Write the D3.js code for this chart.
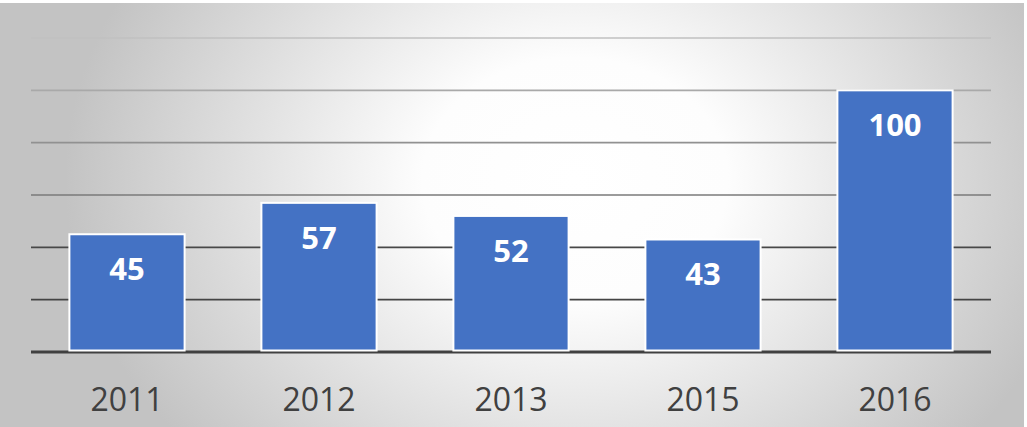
<!DOCTYPE html>
<html>
<head>
<meta charset="utf-8">
<script src="https://cdn.jsdelivr.net/npm/d3@7"></script>
<style>
  html, body { margin: 0; padding: 0; background: #fff; }
  svg { display: block; }
</style>
</head>
<body>
<div id="vis"></div>
<script>
// chart values
var years = ['2011', '2012', '2013', '2015', '2016'];
var counts = [45, 57, 52, 43, 100];
var gridTicks = [0, 20, 40, 60, 80, 100, 120];

var width = 1027, height = 427;
var margin = {top: 38, right: 36, bottom: 75, left: 31};

var svg = d3.select('#vis').append('svg')
    .attr('width', width)
    .attr('height', height);

// background panel with soft radial shading (wide, mostly horizontal falloff)
var defs = svg.append('defs');
var grad = defs.append('radialGradient')
    .attr('id', 'bg')
    .attr('gradientUnits', 'userSpaceOnUse')
    .attr('cx', 575).attr('cy', 180)
    .attr('r', 510)
    .attr('gradientTransform', 'translate(575,180) scale(1,0.8) translate(-575,-180)');
grad.append('stop').attr('offset', '0%').attr('stop-color', '#ffffff');
grad.append('stop').attr('offset', '30%').attr('stop-color', '#fdfdfd');
grad.append('stop').attr('offset', '100%').attr('stop-color', '#c3c3c3');

svg.append('rect')
    .attr('x', 0).attr('y', 3)
    .attr('width', 1024).attr('height', height - 3)
    .attr('fill', 'url(#bg)');

var x = d3.scaleBand()
    .domain(years)
    .range([margin.left, width - margin.right])
    .paddingInner(0.4)
    .paddingOuter(0.2);

var y = d3.scaleLinear()
    .domain([0, 120])
    .range([height - margin.bottom, margin.top]);

// gridlines get lighter toward the top
var lineColor = d3.scaleLinear()
    .domain([0, 40, 60, 120])
    .range(['#404040', '#484848', '#7a7a7a', '#c0c0c0']);

svg.append('g')
  .selectAll('line')
  .data(gridTicks)
  .join('line')
    .attr('x1', margin.left)
    .attr('x2', width - margin.right)
    .attr('y1', function(d) { return y(d); })
    .attr('y2', function(d) { return y(d); })
    .attr('stroke', function(d) { return lineColor(d); })
    .attr('stroke-width', function(d) { return d === 0 ? 3 : 1.6; });

var data = years.map(function(yr, i) { return {year: yr, value: counts[i]}; });

// bars
svg.append('g')
  .selectAll('rect')
  .data(data)
  .join('rect')
    .attr('x', function(d) { return x(d.year); })
    .attr('y', function(d) { return y(d.value); })
    .attr('width', x.bandwidth())
    .attr('height', function(d) { return y(0) - y(d.value) - 1.5; })
    .attr('fill', '#4472c4')
    .attr('stroke', '#ffffff')
    .attr('stroke-width', 2);

// value labels inside the bars
svg.append('g')
  .selectAll('text')
  .data(data)
  .join('text')
    .attr('x', function(d) { return x(d.year) + x.bandwidth() / 2; })
    .attr('y', function(d) { return y(d.value) + 46; })
    .attr('text-anchor', 'middle')
    .attr('fill', '#ffffff')
    .style('font-family', '"Open Sans", sans-serif')
    .style('font-weight', 'bold')
    .style('font-size', '31px')
    .text(function(d) { return d.value; });

// category axis, no ticks or domain line
var xAxis = svg.append('g')
    .attr('transform', 'translate(0,' + y(0) + ')')
    .call(d3.axisBottom(x).tickSize(0).tickPadding(36));
xAxis.select('.domain').remove();
xAxis.selectAll('text')
    .attr('fill', '#404040')
    .style('font-family', '"Open Sans", sans-serif')
    .style('font-size', '32px');
</script>
</body>
</html>
